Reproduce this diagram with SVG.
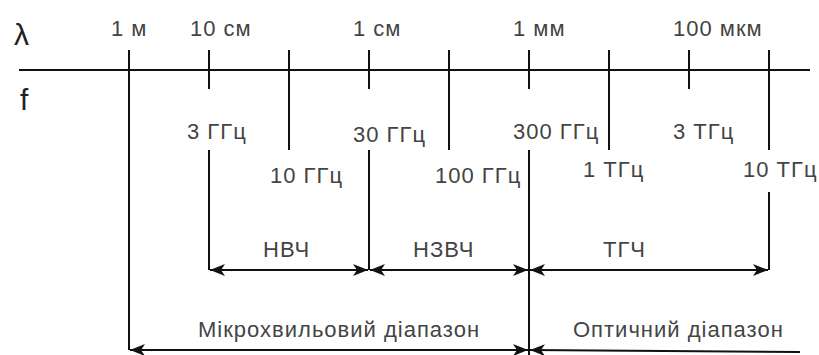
<svg xmlns="http://www.w3.org/2000/svg" width="819" height="355" viewBox="0 0 819 355">
  <defs>
    <marker id="arrow" viewBox="0 0 15 12" refX="15" refY="6" markerWidth="15" markerHeight="12" markerUnits="userSpaceOnUse" orient="auto-start-reverse">
      <path d="M0,0 L15,6 L0,12 L4,6 Z" fill="#111"/>
    </marker>
  </defs>
  <style>
    .ln { stroke: #111; stroke-width: 2; fill: none; }
    .dim { stroke: #111; stroke-width: 2; fill: none; marker-start: url(#arrow); marker-end: url(#arrow); }
    .t { font-family: "Liberation Sans", Arial, sans-serif; font-size: 22px; letter-spacing: 1px; fill: #444; }
    .sym { font-family: "Liberation Sans", Arial, sans-serif; font-size: 30px; fill: #222; }
  </style>
  <rect width="819" height="355" fill="#fff"/>

  <!-- scale axis, ticks and dimension arrows -->
  <g id="connectors">
    <line class="ln" x1="19" y1="70" x2="810" y2="70"/>
    <!-- ticks / extension lines -->
    <line class="ln" x1="129" y1="50" x2="129" y2="350"/>
    <line class="ln" x1="209" y1="50" x2="209" y2="89"/>
    <line class="ln" x1="209" y1="150" x2="209" y2="270"/>
    <line class="ln" x1="289" y1="50" x2="289" y2="150"/>
    <line class="ln" x1="369" y1="50" x2="369" y2="89"/>
    <line class="ln" x1="369" y1="150" x2="369" y2="270"/>
    <line class="ln" x1="449" y1="50" x2="449" y2="150"/>
    <line class="ln" x1="529" y1="50" x2="529" y2="89"/>
    <line class="ln" x1="529" y1="150" x2="529" y2="355"/>
    <line class="ln" x1="609" y1="50" x2="609" y2="150"/>
    <line class="ln" x1="689" y1="50" x2="689" y2="89"/>
    <line class="ln" x1="769" y1="50" x2="769" y2="150"/>
    <line class="ln" x1="769" y1="192" x2="769" y2="270"/>
    <!-- band dimension arrows -->
    <line class="dim" x1="210" y1="270" x2="368" y2="270"/>
    <line class="dim" x1="370" y1="270" x2="528" y2="270"/>
    <line class="dim" x1="530" y1="270" x2="768" y2="270"/>
    <line class="dim" x1="130" y1="350" x2="528" y2="350"/>
    <line class="ln" x1="530" y1="350" x2="800" y2="352" marker-start="url(#arrow)"/>
  </g>

  <g id="axis-symbols">
    <text class="sym" x="14" y="45">λ</text>
    <text class="sym" x="20" y="110">f</text>
  </g>

  <g id="wavelengths">
    <text class="t" x="111" y="36">1 м</text>
    <text class="t" x="190" y="36">10 см</text>
    <text class="t" x="353" y="36">1 см</text>
    <text class="t" x="513" y="36">1 мм</text>
    <text class="t" x="673" y="36">100 мкм</text>
  </g>

  <g id="frequencies">
    <text class="t" x="187" y="139">3 ГГц</text>
    <text class="t" x="270" y="183">10 ГГц</text>
    <text class="t" x="353" y="142">30 ГГц</text>
    <text class="t" x="435" y="183">100 ГГц</text>
    <text class="t" x="513" y="139">300 ГГц</text>
    <text class="t" x="583" y="177">1 ТГц</text>
    <text class="t" x="673" y="139">3 ТГц</text>
    <text class="t" x="743" y="177">10 ТГц</text>
  </g>

  <g id="band-nvch"><text class="t" x="263" y="257">НВЧ</text></g>
  <g id="band-nzvch"><text class="t" x="413" y="257">НЗВЧ</text></g>
  <g id="band-tgch"><text class="t" x="603" y="257">ТГЧ</text></g>
  <g id="range-micro"><text class="t" x="198" y="337">Мікрохвильовий діапазон</text></g>
  <g id="range-optical"><text class="t" x="573" y="337">Оптичний діапазон</text></g>
</svg>
